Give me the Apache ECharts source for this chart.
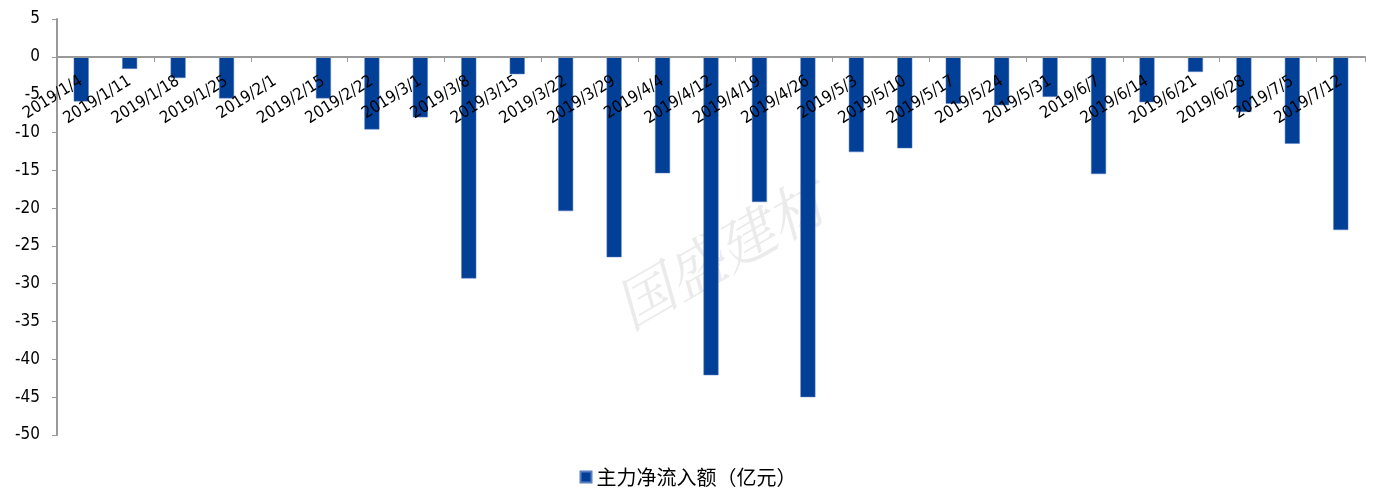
<!DOCTYPE html>
<html><head><meta charset="utf-8">
<script src="https://cdn.jsdelivr.net/npm/echarts@6/dist/echarts.min.js"></script>
<style>html,body{margin:0;padding:0;background:#fff}#c{width:1376px;height:493px}</style>
</head><body><div id="c"></div>
<script>
const categories = ['2019/1/4','2019/1/11','2019/1/18','2019/1/25','2019/2/1','2019/2/15','2019/2/22','2019/3/1','2019/3/8','2019/3/15','2019/3/22','2019/3/29','2019/4/4','2019/4/12','2019/4/19','2019/4/26','2019/5/3','2019/5/10','2019/5/17','2019/5/24','2019/5/31','2019/6/7','2019/6/14','2019/6/21','2019/6/28','2019/7/5','2019/7/12'];
const netInflow = [-5.9,-1.6,-2.8,-5.5,-0.1,-5.5,-9.6,-8.0,-29.3,-2.3,-20.4,-26.5,-15.4,-42.1,-19.2,-45.0,-12.6,-12.1,-6.2,-6.4,-5.3,-15.5,-6.0,-2.0,-7.3,-11.5,-22.9];
const seriesName = '主力净流入额（亿元）';
const yMin = -50, yMax = 5, yStep = 5;

const gridTop = 19, gridBottom = 58, H = 493;
const plotH = H - gridTop - gridBottom;
const zeroOffset = plotH * (0 - yMin) / (yMax - yMin);

const labelFont = '16.5px "DejaVu Sans Condensed","DejaVu Sans"';
const rot = 32 * Math.PI / 180;
const anchorDy = 23;

const chart = echarts.init(document.getElementById('c'));
chart.setOption({
  animation: false,
  graphic: [{
    type: 'text', left: 605, top: 170, rotation: Math.PI/6, z: 0,
    style: { text: '国盛建材', fill: 'rgba(205,205,205,0.4)', font: 'italic 58px "Noto Serif CJK SC","Noto Sans CJK SC"' }
  }],
  grid: { left: 57, right: 11, top: gridTop, bottom: gridBottom },
  legend: {
    bottom: 1, left: 'center', itemWidth: 11, itemHeight: 11, icon: 'rect', itemGap: 6,
    textStyle: { fontFamily: '"Noto Sans CJK SC"', fontSize: 20, color: '#000' },
    data: [seriesName]
  },
  xAxis: {
    type: 'category', data: categories, position: 'bottom', offset: -zeroOffset,
    axisLine: { onZero: false, lineStyle: { color: '#999', width: 2 } },
    axisTick: { show: true, length: 5, lineStyle: { color: '#999' } },
    axisLabel: { show: false },
    z: 10
  },
  yAxis: {
    type: 'value', min: yMin, max: yMax, interval: yStep,
    axisLine: { show: true, lineStyle: { color: '#999', width: 2 } },
    axisTick: { show: true, length: 5, lineStyle: { color: '#999' } },
    splitLine: { show: false },
    axisLabel: { margin: 17, fontFamily: '"DejaVu Sans Condensed","DejaVu Sans"', fontSize: 17, color: '#000' }
  },
  series: [{
    name: seriesName, type: 'bar', data: netInflow, barWidth: '31%', z: 1,
    itemStyle: { color: '#023F97', borderColor: '#5a7fc0', borderWidth: 0.5 }
  }, {
    name: 'labels', type: 'custom', silent: true, z: 20, zlevel: 1,
    data: categories.map((c, i) => [i, 0]),
    renderItem: (params, api) => {
      const pt = api.coord([api.value(0), api.value(1)]);
      return {
        type: 'text', x: pt[0], y: pt[1] + anchorDy, rotation: rot,
        style: { text: categories[params.dataIndex], font: labelFont, fill: '#000', align: 'right', verticalAlign: 'middle' }
      };
    }
  }]
});
</script></body></html>
